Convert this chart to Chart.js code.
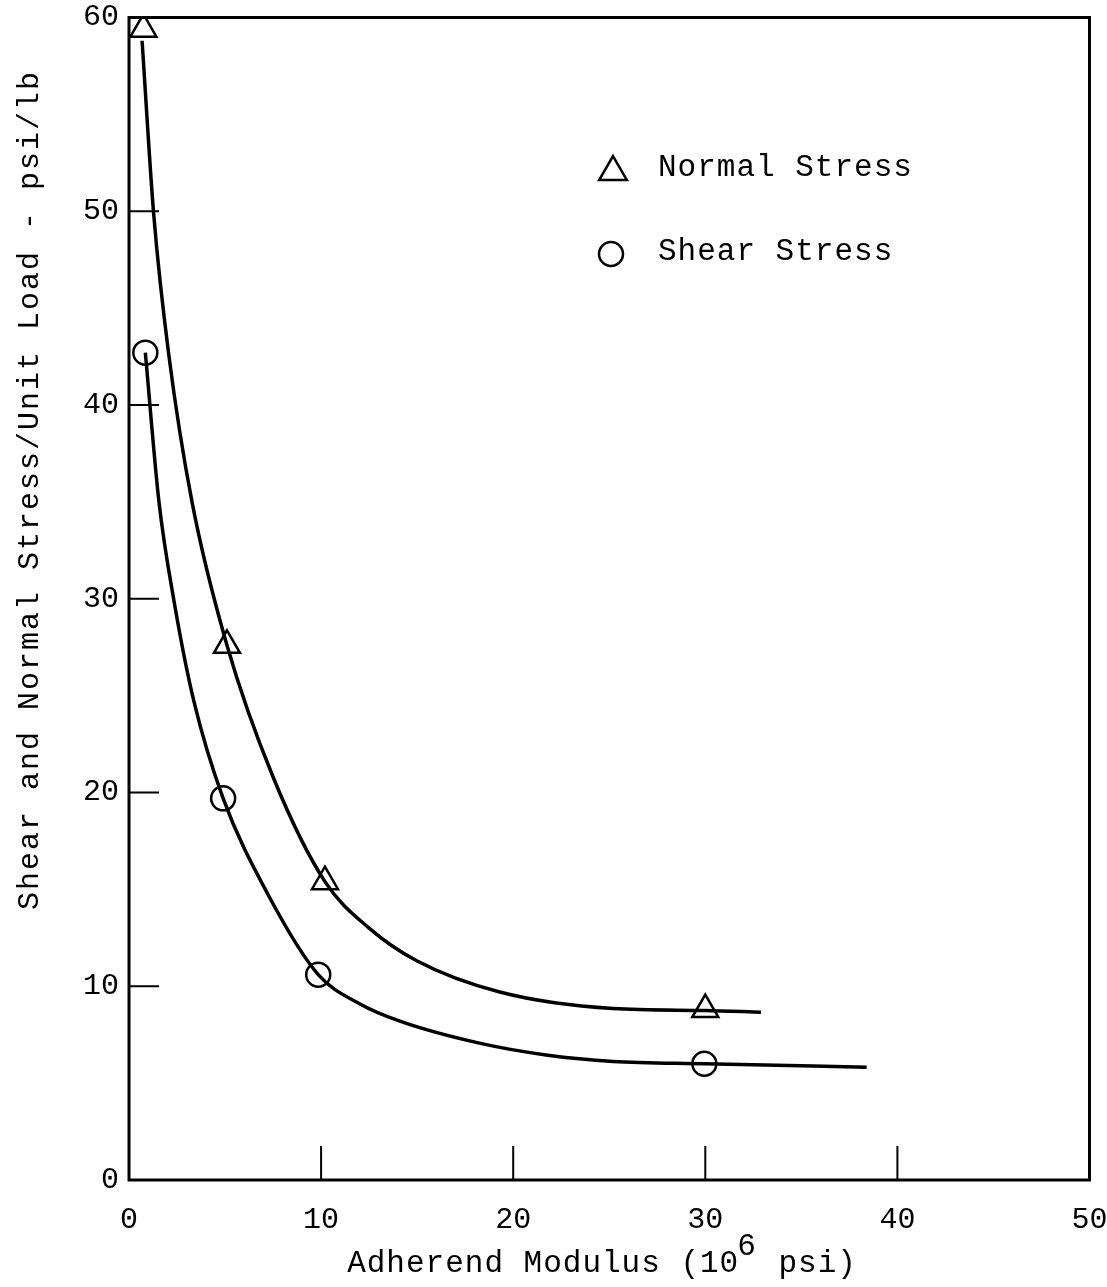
<!DOCTYPE html>
<html>
<head>
<meta charset="utf-8">
<title>Adherend Modulus vs Stress</title>
<script src="https://cdn.jsdelivr.net/npm/chart.js@4.4.1/dist/chart.umd.min.js"></script>
<style>
  html, body { margin: 0; padding: 0; background: #fff; }
  #wrap { width: 1107px; height: 1287px; }
</style>
</head>
<body>
<div id="wrap"><canvas id="stressChart"></canvas></div>
<script>
// test points, modulus in 10^6 psi, stress in psi/lb
const normalModulus = [0.75, 5.1, 10.2, 30.0];
const normalStress = [59.4, 27.6, 15.4, 8.8];
const shearModulus = [0.85, 4.9, 9.85, 29.95];
const shearStress = [42.7, 19.7, 10.6, 6.0];

// faired curves
const normalCurveX = [0.68, 1.29, 2.07, 3.28, 5.1, 7.5, 10.2, 12.5, 15, 19.3, 25.2, 30.0, 32.9];
const normalCurveY = [58.8, 49.8, 42.6, 35.0, 27.6, 20.8, 15.4, 13.0, 11.3, 9.7, 8.85, 8.75, 8.66];
const shearCurveX = [0.85, 1.56, 2.34, 3.38, 4.9, 7.2, 9.85, 12, 14.1, 18.3, 21.8, 25.2, 29.95, 38.4];
const shearCurveY = [42.7, 35.0, 29.9, 24.7, 19.7, 14.8, 10.6, 9.1, 8.2, 7.05, 6.44, 6.12, 6.0, 5.82];

const xTicks = [0, 10, 20, 30, 40, 50];
const yTicks = [0, 10, 20, 30, 40, 50, 60];
const seriesNames = ['Normal Stress', 'Shear Stress'];

const FONT = "'Liberation Mono', 'DejaVu Sans Mono', monospace";

function toPoints(xs, ys) {
    return xs.map((v, i) => ({ x: v, y: ys[i] }));
}

function drawMarker(ctx, style, x, y, r) {
    ctx.beginPath();
    if (style === 'triangle') {
        ctx.moveTo(x, y - r);
        ctx.lineTo(x + r * Math.sin(Math.PI * 2 / 3), y - r * Math.cos(Math.PI * 2 / 3));
        ctx.lineTo(x + r * Math.sin(Math.PI * 4 / 3), y - r * Math.cos(Math.PI * 4 / 3));
        ctx.closePath();
    } else {
        ctx.arc(x, y, r, 0, Math.PI * 2);
    }
    ctx.fillStyle = '#fff';
    ctx.fill();
    ctx.stroke();
}

// box, inward ticks, axis titles and the legend
const decorations = {
    id: 'decorations',
    afterDraw(chart) {
        const { ctx, chartArea: a, scales: { x, y } } = chart;
        ctx.save();
        ctx.strokeStyle = '#000';
        ctx.fillStyle = '#000';
        ctx.lineWidth = 3;
        ctx.strokeRect(a.left, a.top, a.right - a.left, a.bottom - a.top);

        ctx.lineWidth = 2;
        ctx.beginPath();
        x.ticks.forEach(t => {
            if (t.value <= x.min || t.value >= x.max) return;
            const px = x.getPixelForValue(t.value);
            ctx.moveTo(px, a.bottom);
            ctx.lineTo(px, a.bottom - 34);
        });
        y.ticks.forEach(t => {
            if (t.value <= y.min || t.value >= y.max) return;
            const py = y.getPixelForValue(t.value);
            ctx.moveTo(a.left, py);
            ctx.lineTo(a.left + 30, py);
        });
        ctx.stroke();

        // y title
        ctx.font = '30px ' + FONT;
        ctx.letterSpacing = '2px';
        ctx.textAlign = 'center';
        ctx.textBaseline = 'middle';
        ctx.save();
        ctx.translate(30, 490);
        ctx.rotate(-Math.PI / 2);
        ctx.fillText('Shear and Normal Stress/Unit Load - psi/lb', 0, 0);
        ctx.restore();

        // x title with raised exponent
        ctx.font = '31px ' + FONT;
        ctx.letterSpacing = '1px';
        ctx.textAlign = 'left';
        const partA = 'Adherend Modulus (10';
        const partB = ' psi)';
        const slot = ctx.measureText('6').width;
        const total = ctx.measureText(partA).width + slot + ctx.measureText(partB).width;
        let tx = 602 - total / 2;
        const ty = 1264;
        ctx.fillText(partA, tx, ty);
        tx += ctx.measureText(partA).width;
        ctx.fillText('6', tx - 2, ty - 17);
        tx += slot;
        ctx.fillText(partB, tx, ty);

        // legend
        ctx.lineWidth = 2.5;
        drawMarker(ctx, 'triangle', 613, 172, 16);
        drawMarker(ctx, 'circle', 611, 254, 12);
        ctx.fillStyle = '#000';
        ctx.fillText(seriesNames[0], 658, 168);
        ctx.fillText(seriesNames[1], 658, 252);
        ctx.restore();
    }
};

const lineStyle = {
    showLine: true,
    borderColor: '#000',
    borderWidth: 3.5,
    pointRadius: 0,
    cubicInterpolationMode: 'monotone',
    fill: false
};

const markerStyle = {
    showLine: false,
    borderColor: '#000',
    backgroundColor: '#fff',
    borderWidth: 2.5
};

new Chart(document.getElementById('stressChart'), {
    type: 'scatter',
    data: {
        datasets: [
            Object.assign({ label: 'Normal curve', data: toPoints(normalCurveX, normalCurveY) }, lineStyle),
            Object.assign({ label: 'Shear curve', data: toPoints(shearCurveX, shearCurveY) }, lineStyle),
            Object.assign({ label: seriesNames[0], data: toPoints(normalModulus, normalStress), pointStyle: 'triangle', pointRadius: 15 }, markerStyle),
            Object.assign({ label: seriesNames[1], data: toPoints(shearModulus, shearStress), pointStyle: 'circle', pointRadius: 12 }, markerStyle)
        ]
    },
    options: {
        responsive: true,
        maintainAspectRatio: false,
        animation: false,
        layout: { padding: { top: 16, right: 17, left: 0, bottom: 0 } },
        plugins: {
            legend: { display: false },
            tooltip: { enabled: false }
        },
        scales: {
            x: {
                type: 'linear',
                min: 0,
                max: 50,
                afterFit: s => { s.height = 107; s.paddingLeft = 0; s.paddingRight = 0; },
                afterBuildTicks: s => { s.ticks = xTicks.map(v => ({ value: v })); },
                grid: { display: false, drawTicks: false },
                border: { display: false },
                ticks: { color: '#000', padding: 22, font: { family: FONT, size: 30 } }
            },
            y: {
                type: 'linear',
                min: 0,
                max: 60,
                afterFit: s => { s.width = 129; s.paddingTop = 0; s.paddingBottom = 0; },
                afterBuildTicks: s => { s.ticks = yTicks.map(v => ({ value: v })); },
                grid: { display: false, drawTicks: false },
                border: { display: false },
                ticks: { color: '#000', padding: 10, font: { family: FONT, size: 30 } }
            }
        }
    },
    plugins: [decorations]
});
</script>
</body>
</html>
